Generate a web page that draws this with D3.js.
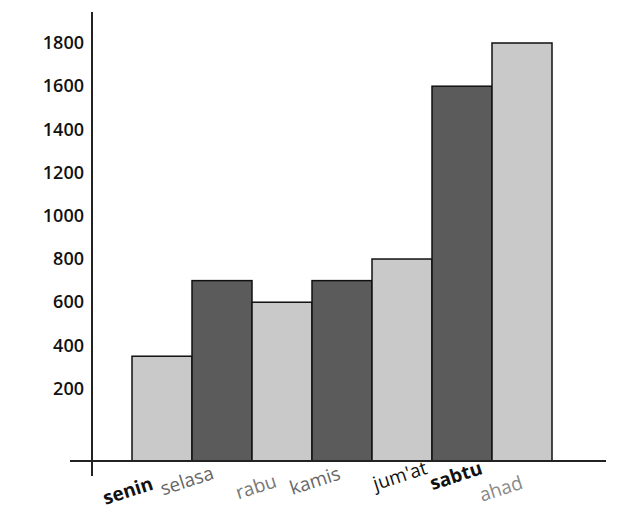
<!DOCTYPE html>
<html><head><meta charset="utf-8">
<script src="https://cdn.jsdelivr.net/npm/d3@7"></script>
<style>body{margin:0;background:#fff}</style></head>
<body><svg id="c" width="620" height="531"></svg>
<script>
const categories=["senin","selasa","rabu","kamis","jum'at","sabtu","ahad"];
const values=[350,700,600,700,800,1600,1800];
const shades=["light","dark","light","dark","light","dark","light"];
const labelColors=["#111","#666","#777","#666","#111","#111","#888"];
const labelWeights=["bold","normal","normal","normal","normal","bold","normal"];
const tickValues=[200,400,600,800,1000,1200,1400,1600,1800];

const svg=d3.select("#c");
const y=d3.scaleLinear().domain([-135,1800]).range([461,43]);
const x=d3.scaleBand().domain(categories).range([132,552]).padding(0);
const fill={light:"#c9c9c9",dark:"#5b5b5b"};

svg.selectAll("rect.bar").data(values).enter().append("rect")
 .attr("x",(d,i)=>x(categories[i])).attr("width",x.bandwidth())
 .attr("y",d=>y(d)).attr("height",d=>y(-135)-y(d))
 .attr("fill",(d,i)=>fill[shades[i]]).attr("stroke","#111").attr("stroke-width",1.5);

const ax=svg.append("g").attr("transform","translate(92,0)")
 .call(d3.axisLeft(y).tickValues(tickValues).tickFormat(d3.format("d")).tickSize(0).tickPadding(8));
ax.select(".domain").remove();
ax.selectAll("text").attr("font-family","Open Sans, sans-serif").attr("font-size",18).attr("font-weight",600).attr("fill","#111");

svg.append("line").attr("x1",92).attr("x2",92).attr("y1",12).attr("y2",476).attr("stroke","#222").attr("stroke-width",2);
svg.append("line").attr("x1",70).attr("x2",606).attr("y1",461).attr("y2",461).attr("stroke","#222").attr("stroke-width",2);

// label placement offsets relative to bar left edge (layout only)
const dx=[-2,-3,6,5,30,26,11], dy=[497,487,493,487,482,482,495];
svg.selectAll("text.lab").data(categories).enter().append("text")
 .attr("transform",(d,i)=>`translate(${x(d)+dx[i]},${dy[i]}) rotate(-18)`)
 .attr("text-anchor","middle").attr("font-family","Open Sans, sans-serif").attr("font-size",19)
 .attr("fill",(d,i)=>labelColors[i]).attr("font-weight",(d,i)=>labelWeights[i]).text(d=>d);
</script></body></html>
